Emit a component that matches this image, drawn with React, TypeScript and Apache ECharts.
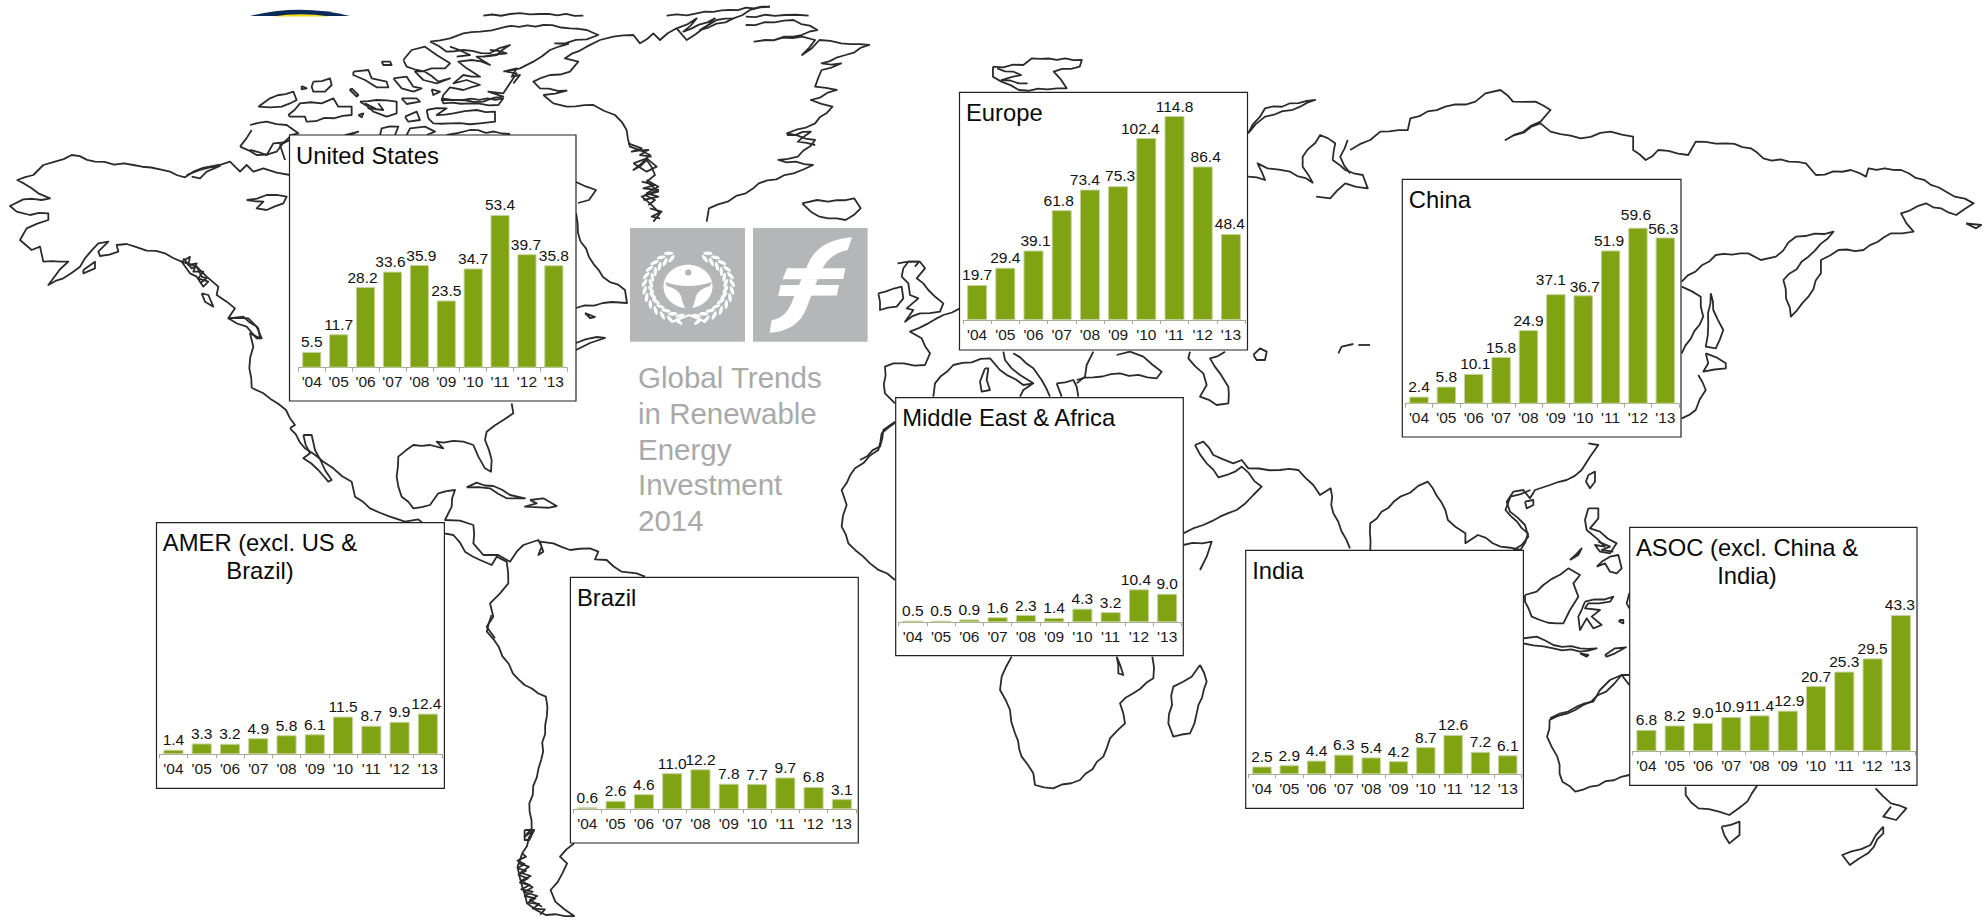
import React, { useEffect, useRef } from "react";
import * as echarts from "echarts";

const years = ["'04", "'05", "'06", "'07", "'08", "'09", "'10", "'11", "'12", "'13"];
const usValues = [5.5, 11.7, 28.2, 33.6, 35.9, 23.5, 34.7, 53.4, 39.7, 35.8];
const europeValues = [19.7, 29.4, 39.1, 61.8, 73.4, 75.3, 102.4, 114.8, 86.4, 48.4];
const chinaValues = [2.4, 5.8, 10.1, 15.8, 24.9, 37.1, 36.7, 51.9, 59.6, 56.3];
const indiaValues = [2.5, 2.9, 4.4, 6.3, 5.4, 4.2, 8.7, 12.6, 7.2, 6.1];
const asocValues = [6.8, 8.2, 9.0, 10.9, 11.4, 12.9, 20.7, 25.3, 29.5, 43.3];
const amerValues = [1.4, 3.3, 3.2, 4.9, 5.8, 6.1, 11.5, 8.7, 9.9, 12.4];
const brazilValues = [0.6, 2.6, 4.6, 11.0, 12.2, 7.8, 7.7, 9.7, 6.8, 3.1];
const meaValues = [0.5, 0.5, 0.9, 1.6, 2.3, 1.4, 4.3, 3.2, 10.4, 9.0];

const panels: any[] = [
  { title: "United States", values: usValues, box: [289.5, 135, 286.5, 266], axis: [298.3, 567.3], base: 367.7, ppu: 2.86, nudge: { 2: [-3, 0], 3: [-2, 0], 4: [2, 0], 8: [-1, 0] } },
  { title: "Europe", values: europeValues, box: [959.5, 92.3, 288, 257.7], axis: [963, 1245], base: 320, ppu: 1.777, nudge: { 2: [2, 0], 3: [-3, 0], 4: [-5, 0], 5: [2, -1], 6: [-6, 0], 8: [3, 0], 9: [-1, 0] } },
  { title: "China", values: chinaValues, box: [1402.3, 179.3, 278.7, 257.7], axis: [1405.3, 1679], base: 403.7, ppu: 2.953, nudge: { 2: [1.5, 0], 5: [-5, -5], 6: [1.5, 1], 7: [-1.5, 0], 8: [-2, -3], 9: [-2, 1.5] } },
  { title: "India", values: indiaValues, box: [1245.7, 550.3, 277.7, 258], axis: [1248.3, 1521.4], base: 774.3, ppu: 3.12, nudge: {} },
  { title: "ASOC (excl. China &\nIndia)", center: 1747, values: asocValues, box: [1629.7, 527.3, 287.3, 258], axis: [1632.3, 1915], base: 751.3, ppu: 3.15, nudge: { 3: [-2, 0], 5: [1.5, 0], 9: [-1, 0] } },
  { title: "AMER (excl. US &\nBrazil)", center: 260, values: amerValues, box: [156.5, 522.7, 287.9, 265.6], axis: [159.3, 442], base: 754.3, ppu: 3.28, nudge: { 9: [-1.5, 0] } },
  { title: "Brazil", values: brazilValues, box: [570.4, 577.3, 287.9, 265.7], axis: [573.2, 856], base: 809.3, ppu: 3.28, nudge: {} },
  { title: "Middle East & Africa", values: meaValues, box: [895.7, 397.7, 287.6, 258], axis: [898.7, 1181.3], base: 622.3, ppu: 3.17, nudge: { 8: [-3, 0] } },
];

const reportTitle = "Global Trends\nin Renewable\nEnergy\nInvestment\n2014";

const coastAlaska = [
  [755,775,748,715,760,650,750,610,780,625,775,595,745,565,685,565,705,535,680,515,650,495,655,470,620,440,590,410,545,395,495,370,440,362,405,350,380,342,350,345,355,365,300,378,295,365,325,335,295,340,255,385,240,410,190,445,145,465,160,445,205,395,180,395,130,395,120,350,95,360,60,330,80,295,145,270,145,250,90,255,50,245,30,228,70,208,125,210,150,205,115,190,95,175,52,150,100,135,130,105,165,95,215,75,285,95,400,105,480,118,510,125,555,142,580,125,640,108,690,95,720,125,740,105,760,125,790,115,830,128,870,135],
  [560,135,600,120,660,108,620,125,600,145,575,140],
  [740,210,800,195,860,200,850,220,800,240,770,235,790,215,740,210],
  [250,420,285,395,285,415,250,430,250,420],
  [545,395,570,380,565,405,590,400,580,425,610,425,595,445,625,455,610,470,590,440,570,430,545,395],
  [550,385,575,415,590,410,605,440,620,445,600,460],
  [605,490,625,495,640,530,615,515,605,490],
  [685,565,730,560,770,590,785,625,770,625,740,590,685,565],
  [720,50,755,0],[720,50,770,75,830,65,870,20],[870,30,840,45,855,90],
];
const coastWest = [
  [252,388,263,393,286,410,295,425,290,428],
];
const coastMexico = [
  [0,85,45,145,100,185,130,205,185,245,195,290,240,325,300,350,345,365,385,358,405,375],
  [40,105,65,105,75,150,105,210,125,240,115,245,85,210,40,175,60,160,40,105],
  [665,10,670,40,640,60,590,95,585,120,605,180,603,215,585,205,565,170,550,135,520,125,460,128,440,125,460,145,420,135,370,135,325,170,320,230,335,290,370,325,420,315,445,280,495,270,485,320,465,360,510,362,550,375,550,430,580,465,625,465,660,485,680,455,700,435,745,420,755,440,745,465,760,455,750,425,790,430,840,450,900,445,925,455,915,478,950,480,995,515,1040,520,1065,530],
  [462,400,490,405,525,455,570,480,605,495,620,470,650,485,655,550,630,580,600,610,610,650,590,680,615,715],
  [530,262,560,248,610,258,660,285,705,295,650,295,600,265,530,262],
  [720,300,760,295,800,318,750,322,705,320,740,310,720,300],
];
const coastSouth = [
  [745,345,735,395,760,440,790,520,815,555,860,590,862,650,850,780,825,910,830,985,815,1010,835,990,810,1060,800,1100,810,1160,820,1210,860,1245,920,1248,880,1205,870,1170,895,1120,905,1090,890,1070,920,1030],
  [810,1060,818,1070,800,1082,815,1092,800,1105,818,1112,802,1125,822,1135,805,1148,826,1155,808,1168,832,1175,815,1188,838,1195,822,1208,846,1212,832,1226,858,1228,848,1244],
  [803,1090,824,1100,806,1118,828,1128,808,1142,832,1162,814,1176,842,1188,826,1200,852,1220],
  [815,990,835,990,825,1020,815,1020,815,990],
];
const coastArctic = [
  [540,125,600,115,640,100,690,95,760,82,880,75,960,85,1010,90,1045,105,1010,118,915,130,955,132,900,150,850,185,810,205,770,215,800,220,780,250,760,280,715,275,760,290,700,305,620,300,575,300,580,285,600,262,640,270,690,255,650,240,610,250,640,225,690,230,650,205,625,185,665,180,720,195,680,170,740,165,780,135,720,160,640,150,590,155,540,125],
  [460,180,485,150,525,140,560,165,600,190,585,205,545,205,495,215,520,240,560,250,600,235,565,245,525,215,470,200,460,180],
  [395,185,420,185,425,195,400,195,395,185],
  [310,215,355,210,365,235,410,245,415,262,380,262,345,240,310,225,310,215],
  [430,235,470,230,490,260,515,265,490,275,455,265,430,235],
  [545,268,570,275,550,285,545,268],
  [190,245,240,235,245,255,225,275,190,275,185,260,190,245],
  [155,258,170,265,155,268,155,258],
  [305,265,325,285,320,290,300,270,305,265],
  [25,320,60,295,130,275,140,300,95,320,60,322,25,320],
  [115,345,150,310,215,310,250,295,265,320,305,320,305,345,170,365,165,350,120,350,115,345],
  [325,345,340,340,335,352,325,345],
  [330,305,380,300,440,305,440,340,410,350,370,335,330,305],
  [345,310,375,325,355,325,400,330,385,310],
  [455,295,500,295,510,305,470,312,455,295],
  [465,350,500,335,510,360,475,365,465,350],
  [530,330,590,325,560,345,610,340,680,330,735,335,735,365,690,370,600,370,550,370,535,355,530,330],
  [575,295,640,300,760,295,745,315,660,310,580,310,575,295],
  [285,405,325,395,300,405],
  [390,405,395,385,445,380,435,405],
  [470,405,480,385,525,380,555,395,530,405],
  [590,405,660,390,780,402],
  [0,375,50,365,110,375,145,400,118,406],
  [118,420,70,430,50,465,0,450],
  [700,47,780,42,870,42,1000,47],
  [1250,47,1340,40,1440,30,1560,20],
  [1280,85,1340,55,1300,95,1395,55,1350,90,1450,55],
  [720,150,770,160,700,170],
  [600,140,660,165,620,170],
  [760,215,800,205,785,230,810,225,790,250],
  [880,285,950,272,870,265,850,245,900,225,960,215,985,185,945,175,1010,140,1050,120,1090,110,1150,105,1170,130,1210,100,1230,120,1280,85,1310,120,1360,85,1400,60,1450,55,1500,30,1560,20],
  [880,285,910,310,950,320,1030,315,1095,345,1130,390,1140,440,1200,465,1175,490,1150,510,1190,480,1215,525,1190,545,1225,575,1175,590,1200,610,1230,640,1210,665],
  [1150,490,1190,475,1220,500,1190,515,1150,490],
  [1190,540,1225,560,1190,580,1225,590,1180,600],
  [1135,430,1175,445,1145,455,1195,450,1170,465,1205,470],
  [1175,545,1215,555,1180,565,1225,570,1185,585,1215,600,1195,615],
  [1200,625,1235,635,1205,650,1230,655],
];
const coastGreenland = [
  [290,50,380,45,435,47],
  [290,75,400,60,455,90,400,110,310,125,420,110,450,120,420,165,460,120,510,130,575,135,520,165,465,190,510,190,465,210,450,260,500,270,440,300,490,320,450,370,385,400,450,420,410,470,365,480,445,495,400,520,320,550,290,580,205,625,200,665],
  [420,610,455,600,480,605,540,595,555,625,520,660,460,650,440,635,420,610],
  [860,200,930,195,950,175,1065,180,1060,200,1000,215,1030,265,920,270,860,230,860,200],
  [385,405,440,395,410,425,450,435],
  [870,205,925,225,880,240,940,250],
  [640,790,690,785,680,800],
];
const coastEurope = [
  [55,160,125,140,130,175,110,200,60,210,60,185,55,160],
  [130,85,145,65,180,65,195,85,170,115,205,150,250,190,240,215,180,220,135,245,160,210,140,205,175,175,150,165,145,130,125,110,130,85],
  [300,205,250,225,205,250,150,275,185,295,210,340,195,375,100,370,75,380,75,460,105,490],
  [220,470,225,430,280,375,390,355,420,390,490,435,520,430,490,450,480,470],
  [430,335,435,360,480,405,520,430],
  [460,340,520,385,545,420,570,470],
  [375,385,385,385,380,420,390,450,365,455,360,425,375,385],
  [590,430,640,420,650,440,655,470],
  [605,470,590,430],
  [700,335,680,375,675,410,650,430],
  [650,420,700,412,780,400,890,415,905,395,850,350,810,335,770,345],
  [990,335,985,355,1030,400,1040,435,1020,470,1070,495,1105,490,1105,440,1080,400,1050,355,1095,335],
  [1180,345,1200,325,1220,335,1215,360,1190,360,1180,345],
  [1435,340,1445,320,1480,312],
  [1495,315,1530,315],
  [1005,615,1030,605,1060,645,1120,670,1145,660,1165,685,1260,690,1315,690,1360,735,1380,765,1412,745,1420,820,1470,925],
  [1005,615,1040,670,1075,712,1125,695,1145,680,1205,740,1180,765,1130,810,1080,830,1030,855,970,880],
  [970,915,1055,905,1040,950,1020,990],
  [105,545,70,570,60,620,0,660],
];
const coastAfrica = [
  [165,128,125,160,115,210,45,265,5,330,20,375,5,440,25,490,90,550,165,600],
  [515,830,485,890,480,930,510,990,525,1060,545,1130,580,1180,585,1215,640,1225,720,1200,790,1130,810,1075,855,1030,840,970,880,940,940,895,937,830],
  [1080,855,1100,905,1070,1000,1050,1060,1000,1070,985,1030,1000,920,1055,890,1080,855],
  [830,830,850,885,835,880,830,830],
];
const coastAsia = [
  [96,220,130,145,230,120,200,140,130,170,96,220],
  [96,350,130,360,115,310,135,325,180,335,225,368,205,320,205,290,240,225,270,250,265,300,290,330,325,345,335,385,290,370,260,415,232,410],
  [295,240,280,290,300,340],
  [300,270,340,240,360,215,415,210,420,175,490,140,550,125,570,100,600,90,625,125,670,125,700,150,680,185,610,240,680,190,700,215,760,235,820,215,865,230,865,270,890,300,915,270,975,285,990,245,1050,250,1100,265,1125,295,1210,310,1230,345,1300,330,1330,350,1335,325,1400,330,1490,395,1545,430,1510,465,1450,430,1400,460,1425,515,1380,520,1325,570,1275,570,1240,600,1240,640,1215,710,1180,770,1165,660,1215,590,1265,515,1190,530,1150,590,1120,600,1095,580,1030,585,962,665],
  [1530,490,1560,495,1550,505,1530,490],
  [1020,700,1025,750,1045,810,1030,865,1010,860,1015,790,1020,700],
  [962,680,1000,710,1005,770,962,880],
  [1010,880,1050,910,1050,925,1005,935,1015,910,1010,880],
  [995,945,1010,990,990,1050,962,1075],
  [340,1470,340,1390,400,1310,455,1265,465,1285,490,1350,495,1380,530,1420,530,1450,555,1425,600,1460,640,1470],
  [640,1470,655,1420,610,1350,620,1310,660,1290],
];
const coastEastAsia = [
  [265,70,295,75,270,110,245,150,200,180,150,195,105,210,90,235,70,210,40,215,20,245,30,275,75,315,85,350,65,375,40,390],
  [75,245,100,240,100,255,80,265,75,245],
  [265,165,285,155,285,185,270,205,258,185,265,165],
  [265,265,295,265,295,295,270,325,300,335,350,370,330,400,300,395,285,375,315,380,290,355,260,330,255,300,265,265],
  [290,440,330,410,355,405,365,445,350,460,330,455,315,430,290,440],
  [295,365,330,380,305,390,340,395],
  [210,420,245,385,235,405,210,420],
  [75,525,110,515,130,495,205,445,240,465,220,490,235,530,210,570,190,610,170,610,120,600,95,590,75,545,75,525],
  [255,545,340,530,330,545,265,550,255,565,300,570,275,590,305,615,280,625,260,595,240,630,235,590,255,545],
  [70,655,110,650,160,675,240,685,290,685,240,695,160,685,70,670],
  [240,700,265,705,260,710,240,700],
  [315,705,345,685,378,682,345,700,320,710,315,705],
  [358,600,370,600,370,610,358,605,358,600],
  [388,520,380,550,388,565],
  [388,795,365,765,330,780,300,810,280,845,230,860,150,895],
];
const coastOceania = [
  [875,525,860,525,830,575,770,630,720,660,715,710,735,770,745,845,770,875,875,825],
  [985,860,985,885,1010,925,1050,935,1070,945,1105,905,1125,855],
  [1055,980,1090,965,1090,1005,1070,1030,1055,980],
  [1355,865,1385,910,1415,925,1395,960,1370,950,1385,920],
  [1370,980,1345,1035,1290,1065,1305,1095,1340,1060,1370,1000,1370,980],
];
const coastLayers: [number, number, number, number, number[][]][] = [
  [0, 130, 3, 3, coastAlaska],
  [0, 0, 1, 1, coastWest],
  [290, 400, 3, 3, coastMexico],
  [140, 500, 2.119, 3, coastSouth],
  [250, 0, 3, 3, coastArctic],
  [620, 0, 2.306, 3, coastGreenland],
  [860, 240, 3, 3, coastEurope],
  [840, 380, 3, 3, coastAfrica],
  [1200, 60, 1.997, 3, coastAsia],
  [1500, 420, 3, 3, coastEastAsia],
  [1180, 500, 1.948, 3, coastOceania],
];
const coastEastCanada = [
  [576,182,596,190,589,200,578,203],
  [576,213,578,233,589,257,603,277,625,290,627,303,612,302,576,308],
  [585,313,595,317,590,318,585,313],
  [576,343,597,337,605,338,590,343,576,350],
];
const coastWiggle = [0.8, -1.1, 0.5, -0.6, 1.2, -0.9, 0.3, -0.4];

echarts.graphic.registerShape("capNavy", echarts.graphic.extendPath("M250 16 Q300 3.5 350 16 Z", {}));
echarts.graphic.registerShape("capYellow", echarts.graphic.extendPath("M273 16.5 Q300 12 330 16.5 Z", {}));
echarts.graphic.registerShape("finF", echarts.graphic.extendPath("M852 237.3 L847.7 250 Q826 254 818 278 L806.5 308 Q798 331 769.6 332.7 L771.8 320 Q787 318 793.5 298 L808 264 Q818 240 852 237.3 Z M787 268.3 L845.5 268.3 L843.3 279 L782.6 279.3 Z M780.5 285 L839 285 L836.8 295.5 L778.3 296 Z", {}));
echarts.graphic.registerShape("unepFigure", echarts.graphic.extendPath("M665 282 Q688 290 712 282 L710 286 Q699 289 696 296 Q694 307 689 313 Q683 307 681 296 Q678 289 667 286 Z", {}));

function coastElements() {
  const out: any[] = [];
  let w = 0;
  const add = (pts: number[]) => {
    const points: number[][] = [[pts[0], pts[1]]];
    for (let i = 2; i + 1 < pts.length; i += 2) {
      const x0 = pts[i - 2], y0 = pts[i - 1], x1 = pts[i], y1 = pts[i + 1];
      const len = Math.hypot(x1 - x0, y1 - y0);
      const steps = Math.floor(len / 8);
      for (let s = 1; s < steps; s++) {
        const o = coastWiggle[w++ % coastWiggle.length];
        points.push([x0 + ((x1 - x0) * s) / steps - ((y1 - y0) / len) * o, y0 + ((y1 - y0) * s) / steps + ((x1 - x0) / len) * o]);
      }
      points.push([x1, y1]);
    }
    out.push({ type: "polyline", silent: true, shape: { points }, style: { stroke: "#2b2b2b", fill: "none", lineWidth: 1.8, lineJoin: "round" } });
  };
  for (const [ox, oy, sx, sy, lists] of coastLayers) {
    for (const list of lists) add(list.map((v, i) => (i % 2 === 0 ? ox + v / sx : oy + v / sy)));
  }
  coastEastCanada.forEach(add);
  return out;
}

function logoElements() {
  const gray = "#b5b6b8";
  const out: any[] = [
    { type: "rect", shape: { x: 630, y: 228, width: 115, height: 113.7 }, style: { fill: gray } },
    { type: "rect", shape: { x: 753, y: 228, width: 114.6, height: 113.7 }, style: { fill: gray } },
    { type: "finF", style: { fill: "#fff" } },
    { type: "ellipse", shape: { cx: 688, cy: 286.5, rx: 24.5, ry: 21.7 }, style: { fill: "#fff" } },
    { type: "unepFigure", style: { fill: gray } },
    { type: "circle", shape: { cx: 688.3, cy: 272.5, r: 3.3 }, style: { fill: gray } },
    { type: "polyline", shape: { points: [[672, 322], [689, 315], [706, 322]] }, style: { stroke: "#fff", fill: "none", lineWidth: 2 } },
  ];
  for (const side of [-1, 1]) {
    for (let k = 0; k < 13; k++) {
      const a = 0.22 + k * 0.205;
      for (const row of [0, 1]) {
        const rx = row ? 44 : 37.5, ry = row ? 36.5 : 30.5;
        const tilt = row ? 0.45 : -0.45;
        out.push({
          type: "ellipse",
          x: 688.3 + side * rx * Math.sin(a),
          y: 286 + ry * Math.cos(a),
          rotation: side * (a + tilt),
          shape: { cx: 0, cy: 0, rx: 4.6, ry: 1.7 },
          style: { fill: "#fff" },
        });
      }
    }
  }
  return out;
}

export default function App() {
  const ref = useRef<HTMLDivElement>(null);
  useEffect(() => {
    const chart = echarts.init(ref.current!, null, { renderer: "svg" });
    const grids: any[] = [], xAxes: any[] = [], yAxes: any[] = [], series: any[] = [], titles: any[] = [];
    panels.forEach((p, i) => {
      const height = 240;
      grids.push({ left: p.axis[0], width: p.axis[1] - p.axis[0], top: p.base - height, height });
      xAxes.push({
        type: "category", gridIndex: i, data: years, z: 4,
        axisLine: { lineStyle: { color: "#a9a993", width: 1 } },
        axisTick: { show: true, length: 4, alignWithLabel: false, lineStyle: { color: "#a9a993", width: 1 } },
        axisLabel: { interval: 0, margin: 6, fontSize: 15.5, color: "#1a1a1a", fontFamily: "Liberation Sans" },
      });
      yAxes.push({ type: "value", gridIndex: i, min: 0, max: height / p.ppu, show: false, splitLine: { show: false } });
      series.push({
        type: "bar", xAxisIndex: i, yAxisIndex: i, barWidth: "71%", z: 5,
        data: p.values.map((v: number, k: number) => (p.nudge[k] ? { value: v, label: { offset: p.nudge[k] } } : v)),
        itemStyle: { color: "#7fa312", borderColor: "#c3d29c", borderWidth: 1 },
        label: {
          show: true, position: "top", distance: 2, fontSize: 15.5, color: "#111", fontFamily: "Liberation Sans",
          formatter: (d: any) => Number(d.value).toFixed(1),
        },
      });
      const t: any = {
        text: p.title, top: p.box[1] + 6.5, padding: 0,
        textStyle: { fontSize: 23.8, fontWeight: "normal", color: "#0a0a0a", fontFamily: "Liberation Sans", lineHeight: 27.5 },
      };
      if (p.center) { t.left = p.center; t.textAlign = "center"; }
      else t.left = p.box[0] + 6.5;
      titles.push(t);
    });
    titles.push({
      text: reportTitle, left: 638, top: 360, padding: 0,
      textStyle: { fontSize: 29.5, fontWeight: "normal", color: "#a9a9a9", fontFamily: "Liberation Sans", lineHeight: 35.6 },
    });
    const panelRects = panels.map((p) => ({
      type: "rect", shape: { x: p.box[0], y: p.box[1], width: p.box[2], height: p.box[3] },
      style: { fill: "#fff", stroke: "#222", lineWidth: 1.2 },
    }));
    chart.setOption({
      animation: false,
      backgroundColor: "#fff",
      title: titles,
      grid: grids,
      xAxis: xAxes,
      yAxis: yAxes,
      series,
      graphic: {
        elements: [
          { type: "capNavy", style: { fill: "#0c2a57" } },
          { type: "capYellow", style: { fill: "#f4dc12" } },
          ...coastElements(),
          ...logoElements(),
          ...panelRects,
        ],
      },
    });
    return () => chart.dispose();
  }, []);
  return <div ref={ref} style={{ position: "fixed", left: 0, top: 0, width: 1985, height: 921 }} />;
}
